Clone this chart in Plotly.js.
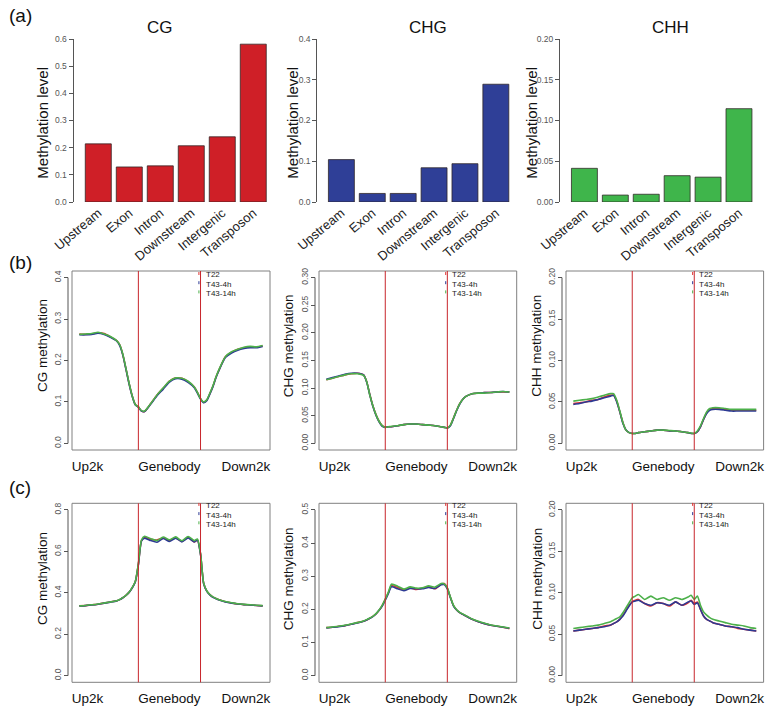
<!DOCTYPE html>
<html><head><meta charset="utf-8">
<script src="https://cdn.plot.ly/plotly-3.0.1.min.js"></script>
<style>html,body{margin:0;padding:0;background:#fff}#chart{width:774px;height:710px}</style>
</head><body><div id="chart"></div>
<script>
// ---------- DATA ----------
const regions = ['Upstream','Exon','Intron','Downstream','Intergenic','Transposon'];
const cgLevel  = [0.214, 0.129, 0.133, 0.207, 0.240, 0.581];
const chgLevel = [0.104, 0.021, 0.021, 0.084, 0.094, 0.289];
const chhLevel = [0.0413, 0.0085, 0.0095, 0.0323, 0.0305, 0.1145];

const samples = ['T22','T43-4h','T43-14h'];
const profileTicks = ['Up2k','Genebody','Down2k'];
const profileTickPos = [3.6, 30, 54.6];
const boundaries = [20, 40];
const bins = [1,3,5,7,9,11,13,14,15,16,17,18,19,20,21,22,24,26,28,30,32,34,36,38,39,40,41,42,43,44,45,46,48,50,52,54,56,58,60];

// (b) gene profiles
const b_CG_T22  = [0.264,0.263,0.264,0.267,0.265,0.257,0.248,0.238,0.214,0.180,0.145,0.115,0.094,0.088,0.078,0.077,0.096,0.117,0.133,0.150,0.158,0.157,0.149,0.136,0.123,0.108,0.099,0.104,0.120,0.138,0.160,0.178,0.209,0.220,0.227,0.231,0.233,0.232,0.235];
const b_CG_T4   = [0.262,0.262,0.263,0.266,0.263,0.256,0.247,0.236,0.213,0.179,0.144,0.114,0.093,0.087,0.078,0.077,0.095,0.115,0.131,0.148,0.156,0.155,0.147,0.134,0.121,0.107,0.098,0.103,0.119,0.137,0.159,0.177,0.207,0.218,0.225,0.229,0.231,0.231,0.234];
const b_CG_T14  = [0.263,0.264,0.265,0.268,0.264,0.258,0.248,0.238,0.215,0.181,0.146,0.115,0.094,0.088,0.079,0.078,0.096,0.117,0.134,0.150,0.158,0.157,0.150,0.136,0.123,0.108,0.100,0.105,0.121,0.139,0.161,0.179,0.209,0.221,0.227,0.232,0.234,0.233,0.236];

const b_CHG_T22 = [0.115,0.118,0.121,0.124,0.126,0.127,0.124,0.112,0.089,0.068,0.052,0.040,0.032,0.029,0.030,0.030,0.032,0.034,0.035,0.035,0.034,0.033,0.032,0.030,0.029,0.028,0.033,0.046,0.060,0.072,0.080,0.085,0.090,0.091,0.092,0.092,0.093,0.093,0.093];
const b_CHG_T4  = [0.116,0.119,0.122,0.125,0.127,0.127,0.124,0.111,0.088,0.067,0.051,0.039,0.031,0.029,0.030,0.030,0.032,0.034,0.035,0.035,0.034,0.033,0.032,0.030,0.029,0.028,0.032,0.045,0.059,0.071,0.080,0.085,0.090,0.091,0.092,0.092,0.093,0.094,0.093];
const b_CHG_T14 = [0.115,0.118,0.121,0.124,0.126,0.126,0.123,0.112,0.088,0.068,0.052,0.040,0.032,0.029,0.030,0.031,0.032,0.034,0.035,0.035,0.034,0.033,0.032,0.030,0.029,0.028,0.033,0.046,0.060,0.072,0.080,0.085,0.090,0.091,0.091,0.092,0.093,0.094,0.093];

const b_CHH_T22 = [0.048,0.049,0.050,0.052,0.053,0.056,0.058,0.058,0.051,0.038,0.025,0.016,0.013,0.012,0.012,0.013,0.014,0.015,0.016,0.016,0.015,0.015,0.014,0.013,0.012,0.012,0.014,0.020,0.029,0.037,0.041,0.042,0.042,0.041,0.040,0.040,0.040,0.040,0.040];
const b_CHH_T4  = [0.047,0.048,0.050,0.051,0.053,0.055,0.057,0.058,0.050,0.038,0.024,0.016,0.013,0.012,0.012,0.013,0.014,0.015,0.016,0.016,0.015,0.015,0.014,0.013,0.012,0.012,0.014,0.020,0.029,0.036,0.040,0.041,0.041,0.040,0.039,0.039,0.039,0.039,0.039];
const b_CHH_T14 = [0.051,0.052,0.053,0.054,0.056,0.058,0.060,0.060,0.052,0.039,0.025,0.016,0.013,0.012,0.012,0.013,0.014,0.015,0.016,0.016,0.0155,0.015,0.014,0.013,0.0125,0.012,0.015,0.021,0.030,0.038,0.042,0.043,0.043,0.042,0.041,0.041,0.041,0.041,0.041];

// (c) transposon profiles
const c_CG_T22  = [0.337,0.338,0.342,0.345,0.350,0.356,0.361,0.367,0.376,0.388,0.402,0.424,0.453,0.537,0.652,0.668,0.658,0.655,0.664,0.652,0.666,0.648,0.668,0.645,0.656,0.588,0.446,0.409,0.391,0.379,0.372,0.366,0.357,0.351,0.346,0.343,0.341,0.339,0.337];
const c_CG_T4   = [0.336,0.338,0.341,0.345,0.350,0.355,0.361,0.367,0.376,0.387,0.402,0.423,0.452,0.535,0.650,0.664,0.652,0.644,0.662,0.648,0.664,0.646,0.665,0.646,0.654,0.585,0.445,0.408,0.390,0.378,0.371,0.365,0.356,0.350,0.346,0.343,0.341,0.339,0.337];
const c_CG_T14  = [0.337,0.339,0.342,0.346,0.351,0.356,0.362,0.368,0.377,0.388,0.403,0.425,0.455,0.540,0.655,0.673,0.661,0.652,0.669,0.656,0.670,0.651,0.672,0.652,0.660,0.590,0.447,0.410,0.392,0.380,0.373,0.367,0.358,0.352,0.347,0.344,0.342,0.340,0.338];

const c_CHG_T22 = [0.145,0.146,0.149,0.151,0.155,0.160,0.164,0.168,0.173,0.179,0.186,0.197,0.211,0.230,0.250,0.272,0.266,0.258,0.265,0.260,0.264,0.268,0.262,0.276,0.278,0.264,0.236,0.211,0.198,0.190,0.185,0.180,0.170,0.163,0.157,0.152,0.149,0.146,0.142];
const c_CHG_T4  = [0.144,0.146,0.148,0.151,0.155,0.159,0.164,0.168,0.173,0.178,0.186,0.197,0.210,0.228,0.248,0.268,0.262,0.256,0.263,0.262,0.262,0.266,0.263,0.274,0.275,0.262,0.235,0.210,0.198,0.190,0.185,0.180,0.170,0.163,0.157,0.152,0.149,0.146,0.143];
const c_CHG_T14 = [0.145,0.147,0.149,0.152,0.156,0.160,0.165,0.169,0.174,0.179,0.187,0.198,0.212,0.231,0.252,0.276,0.270,0.261,0.268,0.264,0.265,0.271,0.267,0.278,0.277,0.265,0.237,0.212,0.199,0.191,0.186,0.181,0.171,0.164,0.158,0.153,0.150,0.147,0.144];

const c_CHH_T22 = [0.054,0.055,0.056,0.057,0.058,0.060,0.061,0.063,0.065,0.068,0.073,0.079,0.085,0.089,0.091,0.092,0.087,0.084,0.088,0.087,0.084,0.089,0.085,0.088,0.091,0.087,0.089,0.080,0.072,0.068,0.066,0.064,0.062,0.060,0.059,0.057,0.056,0.055,0.054];
const c_CHH_T4  = [0.054,0.055,0.056,0.057,0.058,0.059,0.061,0.063,0.065,0.068,0.072,0.078,0.084,0.089,0.090,0.091,0.087,0.085,0.088,0.087,0.085,0.089,0.085,0.089,0.090,0.086,0.088,0.080,0.072,0.068,0.066,0.064,0.062,0.060,0.059,0.058,0.056,0.055,0.054];
const c_CHH_T14 = [0.057,0.058,0.059,0.060,0.061,0.063,0.065,0.067,0.069,0.071,0.076,0.082,0.088,0.094,0.096,0.098,0.092,0.096,0.092,0.094,0.091,0.094,0.092,0.095,0.097,0.092,0.096,0.085,0.077,0.073,0.070,0.068,0.066,0.064,0.062,0.061,0.060,0.058,0.057];

// ---------- LAYOUT HELPERS ----------
const W = 774, H = 710;
const px = x => x / W;
const py = y => 1 - y / H;
const FONT = 'Liberation Sans, Arial, sans-serif';
const sampleColors = ['#e0312f', '#2c3a94', '#4cb04a'];
const boundaryColor = '#c8262c';
const boxColor = '#808080';
const tickColor = '#555555';

const traces = [];
const layout = {
  width: W, height: H,
  margin: {l: 0, r: 0, t: 0, b: 0},
  paper_bgcolor: '#ffffff', plot_bgcolor: '#ffffff',
  showlegend: false,
  bargap: 0.16,
  font: {family: FONT, color: '#222'},
  shapes: [], annotations: []
};

function annot(text, x, y, size, opts) {
  layout.annotations.push(Object.assign({
    text: text, x: px(x), y: py(y), xref: 'paper', yref: 'paper',
    showarrow: false, font: {family: FONT, size: size, color: '#111'},
    xanchor: 'center', yanchor: 'middle', borderpad: 0
  }, opts || {}));
}

// ---------- (a) bar charts ----------
const barPanels = [
  {vals: cgLevel,  color: '#cf1f27', title: 'CG',  titleX: 160, left: 73.5, right: 270, range: [-0.80, 5.54], ymax: 0.6, dtick: 0.1, fmt: '.1f', yTitleX: 41.7},
  {vals: chgLevel, color: '#2f3f97', title: 'CHG', titleX: 428, left: 317.3, right: 515, range: [-0.78, 5.62], ymax: 0.4, dtick: 0.1, fmt: '.1f', yTitleX: 291.7},
  {vals: chhLevel, color: '#3fb54b', title: 'CHH', titleX: 670, left: 560, right: 760, range: [-0.79, 5.68], ymax: 0.20, dtick: 0.05, fmt: '.2f', yTitleX: 530.7}
];
const barTop = 39, barBottom = 202;

barPanels.forEach((p, i) => {
  const n = i + 1;
  const xa = n === 1 ? 'x' : 'x' + n, ya = n === 1 ? 'y' : 'y' + n;
  traces.push({
    type: 'bar', x: regions, y: p.vals, xaxis: xa, yaxis: ya,
    marker: {color: p.color, line: {color: 'rgba(45,35,35,0.85)', width: 0.9}},
    hoverinfo: 'x+y'
  });
  layout[n === 1 ? 'xaxis' : 'xaxis' + n] = {
    domain: [px(p.left), px(p.right)], anchor: ya, range: p.range,
    showline: false, showgrid: false, zeroline: false, ticks: '',
    tickangle: -40, tickfont: {family: FONT, size: 13, color: '#222'}, fixedrange: true
  };
  layout[n === 1 ? 'yaxis' : 'yaxis' + n] = {
    domain: [py(barBottom), py(barTop)], anchor: xa, range: [0, p.ymax],
    showline: true, linecolor: tickColor, linewidth: 1, showgrid: false, zeroline: false,
    ticks: 'outside', ticklen: 4, tickcolor: tickColor, dtick: p.dtick, tickformat: p.fmt,
    tickfont: {family: FONT, size: 8.5, color: tickColor}, fixedrange: true
  };
  annot(p.title, p.titleX, 28, 17, {font: {family: FONT, size: 17, color: '#111'}});
  annot('Methylation level', p.yTitleX, 123, 15, {textangle: -90, font: {family: FONT, size: 15, color: '#111'}});
});

// ---------- (b),(c) profile plots ----------
const profRows = [
  {top: 271, bottom: 450, titleY: 346, legendMid: 284.2, panels: [
    {series: [b_CG_T22, b_CG_T4, b_CG_T14],   range: [-0.016, 0.416], ymax: 0.4,  dtick: 0.1,  fmt: '.1f', title: 'CG methylation'},
    {series: [b_CHG_T22, b_CHG_T4, b_CHG_T14], range: [-0.012, 0.312], ymax: 0.30, dtick: 0.05, fmt: '.2f', title: 'CHG methylation'},
    {series: [b_CHH_T22, b_CHH_T4, b_CHH_T14], range: [-0.008, 0.208], ymax: 0.20, dtick: 0.05, fmt: '.2f', title: 'CHH methylation'}
  ]},
  {top: 503.3, bottom: 682.3, titleY: 579, legendMid: 515.1, panels: [
    {series: [c_CG_T22, c_CG_T4, c_CG_T14],   range: [-0.032, 0.832], ymax: 0.8,  dtick: 0.2,  fmt: '.1f', title: 'CG methylation'},
    {series: [c_CHG_T22, c_CHG_T4, c_CHG_T14], range: [-0.020, 0.520], ymax: 0.5,  dtick: 0.1,  fmt: '.1f', title: 'CHG methylation'},
    {series: [c_CHH_T22, c_CHH_T4, c_CHH_T14], range: [-0.008, 0.208], ymax: 0.20, dtick: 0.05, fmt: '.2f', title: 'CHH methylation'}
  ]}
];
const colBox = [[72, 270], [319, 516.7], [566, 763.6]];
const colTitleX = [[42, 288.3, 535.7], [42, 288.3, 536.7]];
const xRange = [-1.36, 62.36];
const legendStep = 9.2;

profRows.forEach((row, r) => {
  row.panels.forEach((p, c) => {
    const n = 4 + r * 3 + c;
    const xa = 'x' + n, ya = 'y' + n;
    const [L, R] = colBox[c];
    p.series.forEach((vals, s) => {
      traces.push({
        type: 'scatter', mode: 'lines', x: bins, y: vals, xaxis: xa, yaxis: ya,
        name: samples[s], line: {color: sampleColors[s], width: 1.6, shape: 'spline', smoothing: 0.6},
        hoverinfo: 'name+y'
      });
    });
    layout['xaxis' + n] = {
      domain: [px(L), px(R)], anchor: ya, range: xRange,
      showline: false, showgrid: false, zeroline: false, ticks: '',
      tickmode: 'array', tickvals: profileTickPos, ticktext: profileTicks,
      tickfont: {family: FONT, size: 13.5, color: '#111'}, ticklabelstandoff: 6, fixedrange: true
    };
    layout['yaxis' + n] = {
      domain: [py(row.bottom), py(row.top)], anchor: 'free', position: px(L - 4),
      range: p.range, showline: false, showgrid: false, zeroline: false,
      ticks: 'outside', ticklen: 4, tickcolor: tickColor, dtick: p.dtick, tick0: 0, tickformat: p.fmt,
      tickangle: -90, tickfont: {family: FONT, size: 8.5, color: tickColor}, fixedrange: true
    };
    // axis line from first to last tick (R style, offset from box)
    layout.shapes.push({type: 'line', xref: 'paper', yref: ya, x0: px(L - 4), x1: px(L - 4), y0: 0, y1: p.ymax,
      line: {color: tickColor, width: 1}});
    // box
    layout.shapes.push({type: 'rect', xref: xa + ' domain', yref: ya + ' domain', x0: 0, x1: 1, y0: 0, y1: 1,
      line: {color: boxColor, width: 1}});
    // region boundaries
    boundaries.forEach(b => {
      layout.shapes.push({type: 'line', xref: xa, yref: ya + ' domain', x0: b, x1: b, y0: 0, y1: 1,
        line: {color: boundaryColor, width: 1}});
    });
    // legend (R style)
    const bx = L + (boundaries[1] - xRange[0]) / (xRange[1] - xRange[0]) * (R - L);
    samples.forEach((sName, s) => {
      const yy = row.legendMid + (s - 1) * legendStep;
      layout.shapes.push({type: 'line', xref: 'paper', yref: 'paper', x0: px(bx - 1.6), x1: px(bx - 1.6),
        y0: py(yy - 3), y1: py(yy + 3), line: {color: sampleColors[s], width: 1, dash: 'dot'}});
      annot(sName, bx + 4, yy, 8, {xanchor: 'left', font: {family: FONT, size: 8, color: '#222'}});
    });
    annot(p.title, colTitleX[r][c], row.titleY, 13.5, {textangle: -90, font: {family: FONT, size: 13.5, color: '#111'}});
  });
});

// panel letters
annot('(a)', 20, 16, 19, {font: {family: FONT, size: 19, color: '#111'}});
annot('(b)', 20, 263, 19, {font: {family: FONT, size: 19, color: '#111'}});
annot('(c)', 20, 487, 19, {font: {family: FONT, size: 19, color: '#111'}});

Plotly.newPlot('chart', traces, layout, {staticPlot: true, displayModeBar: false});
</script>
</body></html>
